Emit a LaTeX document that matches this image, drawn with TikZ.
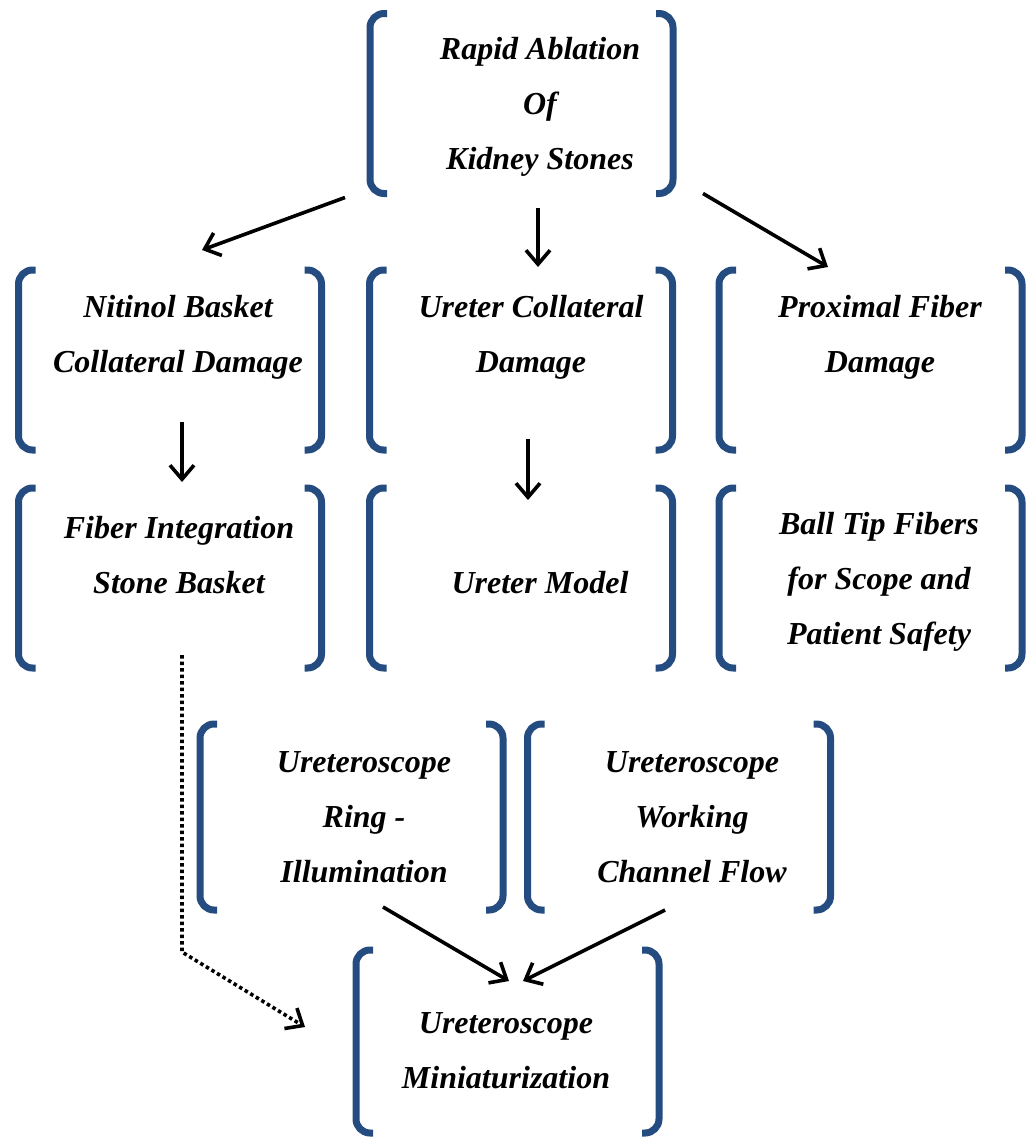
\documentclass[tikz,border=0pt]{standalone}
\usepackage{fontspec}
\setmainfont{Liberation Serif}
\usepackage{tikz}
\usetikzlibrary{arrows.meta,positioning,calc}
\definecolor{bracketblue}{RGB}{36,76,128}

\begin{document}
\begin{tikzpicture}[x=1pt, y=-1pt, line join=round,
  frame/.style={minimum width=303pt, minimum height=180pt, inner sep=0pt, outer sep=0pt},
  txt/.style={align=center, inner sep=0pt, font=\fontsize{32}{55}\selectfont\bfseries\itshape},
  bracket/.style={draw=bracketblue, line width=7pt, rounded corners=14pt},
  arr/.style={line width=3.6pt, -{Straight Barb[length=14pt,width=24pt]}},
  dotarr/.style={arr, dash pattern=on 3.5pt off 3pt}]
\useasboundingbox (0,0) rectangle (1026,1138);

% frames
\node[frame]                     (abl)  at (521.5,103.5) {};
\node[frame]                     (nit)  at (170,360)     {};
\node[frame]                     (uca)  at (521,360)     {};
\node[frame]                     (pfd)  at (870.5,360)   {};
\node[frame]                     (fis)  at (170,578)     {};
\node[frame]                     (urm)  at (521,578)     {};
\node[frame]                     (btf)  at (870.5,578)   {};
\node[frame,minimum height=186pt] (rin)  at (351.5,817)   {};
\node[frame,minimum height=186pt] (wch)  at (679,817)     {};
\node[frame,minimum height=183pt] (mini) at (507.5,1041.5) {};

% brackets round each frame
\foreach \n in {abl,nit,uca,pfd,fis,urm,btf,rin,wch,mini}{
  \draw[bracket] ($(\n.north west)+(17,0)$) -- (\n.north west) -- (\n.south west) -- ($(\n.south west)+(17,0)$);
  \draw[bracket] ($(\n.north east)+(-17,0)$) -- (\n.north east) -- (\n.south east) -- ($(\n.south east)+(-17,0)$);
}

% texts
\node[txt] (abl-t)  at (540,107)  {Rapid Ablation\\Of\\Kidney Stones};
\node[txt] (nit-t)  at (178,337)  {Nitinol Basket\\Collateral Damage};
\node[txt] (uca-t)  at (531,337)  {Ureter Collateral\\Damage};
\node[txt] (pfd-t)  at (880,337)  {Proximal Fiber\\Damage};
\node[txt] (fis-t)  at (179,555)  {Fiber Integration\\Stone Basket};
\node[txt] (urm-t)  at (540,583)  {Ureter Model};
\node[txt] (btf-t)  at (879,582)  {Ball Tip Fibers\\for Scope and\\Patient Safety};
\node[txt] (rin-t)  at (364,817)  {Ureteroscope\\Ring -\\Illumination};
\node[txt] (wch-t)  at (692,817)  {Ureteroscope\\Working\\Channel Flow};
\node[txt] (mini-t) at (506,1051) {Ureteroscope\\Miniaturization};

% arrows
\draw[arr] ($(abl.south west)+(-25,4)$) -- ($(nit.north)+(32,-20)$);
\draw[arr] ($(abl.south)+(16.5,14)$)    -- ($(uca.north)+(17,-3)$);
\draw[arr] ($(abl.south east)+(30,0)$)  -- ($(pfd.north)+(-42.5,-3)$);
\draw[arr] ($(nit.south)+(12,-28)$)     -- ($(fis.north)+(12,-6)$);
\draw[arr] ($(uca.south)+(7,-11)$)      -- ($(urm.north)+(7,12)$);
\draw[dotarr] ($(fis.south)+(12,-13)$) -- ($(rin.south west)+(-18,42)$) -- ($(mini.west)+(-51,-14.5)$);
\draw[arr] ($(rin.south)+(31.5,-3)$)    -- ($(mini.north)+(1.5,31)$);
\draw[arr] ($(wch.south)+(-14,0)$)      -- ($(mini.north)+(15.5,31)$);
\end{tikzpicture}
\end{document}
